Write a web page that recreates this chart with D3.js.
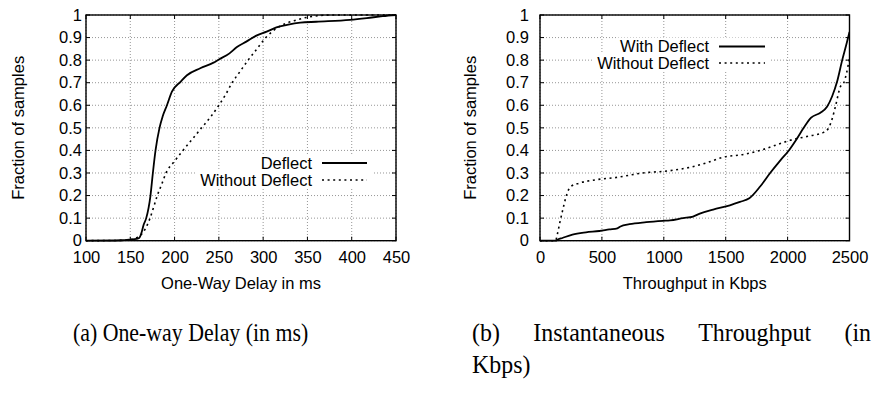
<!DOCTYPE html>
<html><head><meta charset="utf-8">
<script src="https://cdn.jsdelivr.net/npm/d3@7"></script>
<style>
body{margin:0;background:#fff}
svg{display:block}
.sans{font-family:"Liberation Sans",Arial,Helvetica,sans-serif}
.serif{font-family:"Liberation Serif","Times New Roman",Times,serif}
</style>
</head><body>
<svg id="c" width="872" height="394"></svg>
<script>
// ---------- data ----------
const delayTicks = [100,150,200,250,300,350,400,450];
const tputTicks = [0,500,1000,1500,2000,2500];
const fracTicks = [0,0.1,0.2,0.3,0.4,0.5,0.6,0.7,0.8,0.9,1];
const fracLabels = ["0","0.1","0.2","0.3","0.4","0.5","0.6","0.7","0.8","0.9","1"];

const delayDeflectMs   = [100,140,150,157,160,163,165,168,172.8,175.5,178.5,183,186.5,191.4,197,207,214,229,244,250,262,270,281,293,304,315,327,342,360,398,417,435,450];
const delayDeflectFrac = [0,0.002,0.005,0.008,0.012,0.04,0.07,0.1,0.2,0.3,0.4,0.5,0.55,0.6,0.66,0.705,0.733,0.764,0.789,0.803,0.83,0.857,0.882,0.91,0.926,0.945,0.956,0.966,0.97,0.978,0.986,0.995,1];

const delayNoDeflectMs   = [100,145,152,158,163,166.6,172.3,176.5,180.5,185.5,190.3,199.5,209.5,220,230.5,241,250,258,265,274,283,293,303,319,335,350,365,380,450];
const delayNoDeflectFrac = [0,0.002,0.006,0.015,0.03,0.05,0.1,0.15,0.2,0.25,0.3,0.35,0.4,0.45,0.5,0.55,0.6,0.65,0.7,0.75,0.8,0.85,0.9,0.95,0.975,0.99,0.998,1,1];

const tputDeflectKbps = [0,130,145,181,262,371,479,560,625,650,722,858,993,1050,1155,1236,1291,1399,1534,1615,1691,1778,1859,1940,2010,2075,2130,2190,2265,2320,2360,2400,2441,2475,2500];
const tputDeflectFrac = [0,0,0.005,0.012,0.027,0.037,0.043,0.05,0.055,0.063,0.073,0.082,0.088,0.09,0.1,0.107,0.12,0.138,0.157,0.172,0.188,0.24,0.3,0.355,0.4,0.452,0.5,0.545,0.567,0.595,0.64,0.705,0.8,0.87,0.925];

const tputNoDeflectKbps = [0,125,141,160,181,208,230,249,317,452,614,830,1047,1209,1345,1480,1642,1778,1913,2021,2157,2291,2332,2360,2386,2427,2454,2475,2500];
const tputNoDeflectFrac = [0,0,0.03,0.08,0.13,0.19,0.225,0.24,0.255,0.27,0.28,0.3,0.31,0.325,0.345,0.37,0.382,0.4,0.425,0.445,0.462,0.48,0.5,0.54,0.594,0.683,0.7,0.74,0.81];

const legendA = ["Deflect","Without Deflect"];
const legendB = ["With Deflect","Without Deflect"];
const xTitleA = "One-Way Delay in ms";
const xTitleB = "Throughput in Kbps";
const yTitle = "Fraction of samples";
const captionA = "(a) One-way Delay (in ms)";
const captionB1 = ["(b)","Instantaneous","Throughput","(in"];
const captionB2 = "Kbps)";

// ---------- drawing ----------
const svg = d3.select("#c");
const FS = 16.5;

function panel(o){
  const x = d3.scaleLinear().domain(o.xDomain).range([o.l, o.r]);
  const y = d3.scaleLinear().domain([0,1]).range([o.b, o.t]);
  const g = svg.append("g").attr("class","sans");
  const clipId = "clip"+o.id;
  svg.append("clipPath").attr("id",clipId).append("rect")
    .attr("x",o.l).attr("y",o.t-2).attr("width",o.r-o.l).attr("height",o.b-o.t+4);

  // grid
  const grid = g.append("g").attr("stroke","#8a8a8a").attr("stroke-width",0.9).attr("stroke-dasharray","1,2");
  grid.selectAll("line.v").data(o.xTicks).join("line")
    .attr("x1",d=>x(d)).attr("x2",d=>x(d)).attr("y1",o.t).attr("y2",o.b);
  grid.selectAll("line.h").data(fracTicks).join("line")
    .attr("y1",d=>y(d)).attr("y2",d=>y(d)).attr("x1",o.l).attr("x2",o.r);

  // ticks (inward, mirrored)
  const tk = g.append("g").attr("stroke","#000").attr("stroke-width",1);
  o.xTicks.forEach(d=>{
    tk.append("line").attr("x1",x(d)).attr("x2",x(d)).attr("y1",o.b).attr("y2",o.b-4);
    tk.append("line").attr("x1",x(d)).attr("x2",x(d)).attr("y1",o.t).attr("y2",o.t+4);
  });
  fracTicks.forEach(d=>{
    tk.append("line").attr("y1",y(d)).attr("y2",y(d)).attr("x1",o.l).attr("x2",o.l+4);
    tk.append("line").attr("y1",y(d)).attr("y2",y(d)).attr("x1",o.r).attr("x2",o.r-4);
  });

  // series
  const line = d3.line().x(d=>x(d[0])).y(d=>y(d[1])).curve(d3.curveMonotoneX);
  const lines = g.append("g").attr("clip-path","url(#"+clipId+")");
  o.series.forEach(s=>{
    const pts = s.xs.map((v,i)=>[v,s.ys[i]]);
    lines.append("path").datum(pts).attr("d",line).attr("fill","none")
      .attr("stroke","#000").attr("stroke-width",s.dash?1.6:1.8)
      .attr("stroke-dasharray",s.dash?"2,3.6":null);
  });

  // legend
  const lg = g.append("g");
  o.legend.forEach((name,i)=>{
    const cy = o.legY + i*o.legDy;
    const t = lg.append("text").attr("x",o.legTextEnd).attr("y",cy).attr("dy","0.35em")
      .attr("text-anchor","end").attr("font-size",FS).text(name);
    const w = t.node().getComputedTextLength();
    lg.insert("rect","text").attr("x",o.legTextEnd-w-4).attr("y",cy-9)
      .attr("width",w+4+(o.legLineX2-o.legTextEnd)+6).attr("height",o.legDy+1).attr("fill","#fff");
    lg.append("line").attr("x1",o.legLineX1).attr("x2",o.legLineX2).attr("y1",cy).attr("y2",cy)
      .attr("stroke","#000").attr("stroke-width",o.series[i].dash?1.6:1.8)
      .attr("stroke-dasharray",o.series[i].dash?"2,3.6":null);
  });

  // frame
  g.append("rect").attr("x",o.l).attr("y",o.t).attr("width",o.r-o.l).attr("height",o.b-o.t)
    .attr("fill","none").attr("stroke","#000").attr("stroke-width",1.4);

  // axes labels
  const ax = g.append("g").attr("transform",`translate(0,${o.b})`)
    .call(d3.axisBottom(x).tickValues(o.xTicks).tickSize(0).tickPadding(11).tickFormat(d3.format("d")));
  ax.select(".domain").remove();
  ax.attr("font-family",null).attr("font-size",FS);
  ax.selectAll("text").attr("fill","#000");

  const ay = g.append("g").attr("transform",`translate(${o.l},0)`)
    .call(d3.axisLeft(y).tickValues(fracTicks).tickSize(0).tickPadding(o.yPad).tickFormat((d,i)=>fracLabels[i]));
  ay.select(".domain").remove();
  ay.attr("font-family",null).attr("font-size",FS);
  ay.selectAll("text").attr("fill","#000");

  g.append("text").attr("x",(o.l+o.r)/2).attr("y",289).attr("text-anchor","middle")
    .attr("font-size",FS).text(o.xTitle);
  g.append("text").attr("transform",`translate(${o.yTitleX},${(o.t+o.b)/2}) rotate(-90)`)
    .attr("text-anchor","middle").attr("font-size",FS).text(yTitle);
}

panel({id:"a", l:86, r:396, t:15, b:240.7, xDomain:[100,450], xTicks:delayTicks,
  series:[{xs:delayDeflectMs, ys:delayDeflectFrac, dash:false},{xs:delayNoDeflectMs, ys:delayNoDeflectFrac, dash:true}],
  legend:legendA, legY:163, legDy:17, legTextEnd:312, legLineX1:322, legLineX2:367,
  yPad:4, xTitle:xTitleA, yTitleX:24});

panel({id:"b", l:540, r:849.5, t:15, b:240.7, xDomain:[0,2500], xTicks:tputTicks,
  series:[{xs:tputDeflectKbps, ys:tputDeflectFrac, dash:false},{xs:tputNoDeflectKbps, ys:tputNoDeflectFrac, dash:true}],
  legend:legendB, legY:46.5, legDy:16.5, legTextEnd:709, legLineX1:719, legLineX2:765,
  yPad:11, xTitle:xTitleB, yTitleX:476});

// captions (condensed serif, as in the source)
const CFS = 26, SXA = 0.84, SXB = 0.92;
const cap = svg.append("g").attr("class","serif").attr("font-size",CFS).attr("fill","#000");
function capText(str, x, y, sx){
  return cap.append("text").attr("transform",`translate(${x},${y}) scale(${sx},1)`).text(str);
}
capText(captionA, 73, 341, SXA);
// justified first line of caption (b)
const bx0 = 472, bx1 = 871;
const words = captionB1.map(w=>capText(w, 0, 341, SXB));
const widths = words.map(t=>t.node().getComputedTextLength()*SXB);
const gap = (bx1-bx0-d3.sum(widths))/(words.length-1);
let cx = bx0;
words.forEach((t,i)=>{ t.attr("transform",`translate(${cx},341) scale(${SXB},1)`); cx += widths[i]+gap; });
capText(captionB2, bx0, 373, SXB);
</script>
</body></html>
